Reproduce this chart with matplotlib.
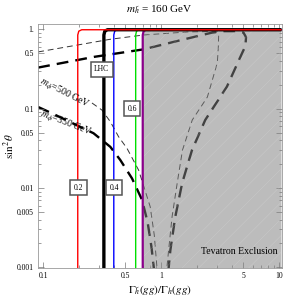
import numpy as np
import matplotlib
matplotlib.use("Agg")
import matplotlib.pyplot as plt
from matplotlib.ticker import FixedLocator, FixedFormatter, LogLocator, NullFormatter

plt.rcParams["font.family"] = ["Liberation Serif", "DejaVu Serif"]
plt.rcParams["mathtext.fontset"] = "stix"
plt.rcParams["hatch.linewidth"] = 0.35

# ratio contours: vertical at x0, bending into sin^2 = 1 at the top
CONTOUR_Y = [0.00097, 0.85, 0.95, 0.99, 0.99]
red_x = [0.197, 0.197, 0.201, 0.213, 10.5]
lhc_x = [0.328, 0.328, 0.334, 0.352, 10.5]
blue_x = [0.398, 0.398, 0.405, 0.425, 10.5]
green_x = [0.61, 0.61, 0.62, 0.65, 10.5]
purple_x = [0.70, 0.70, 0.712, 0.745, 10.5]

# m_phi = 500 GeV (thin dashed)
thin_left_x = [0.091, 0.26, 0.316, 0.372, 0.437, 0.515, 0.646, 0.81, 0.877, 0.925]
thin_left_y = [0.237, 0.118, 0.096, 0.0685, 0.0443, 0.0316, 0.0168, 0.0058, 0.00254, 0.00097]
thin_loop_x = [0.091, 0.37, 0.71, 1.7, 2.7, 3.0, 3.08, 3.06, 3.0, 2.47, 1.84, 1.52, 1.37, 1.24, 1.16, 1.12]
thin_loop_y = [0.52, 0.75, 0.85, 0.93, 0.94, 0.93, 0.85, 0.6, 0.378, 0.14, 0.072, 0.030, 0.0114, 0.0043, 0.00164, 0.00097]

# m_phi = 350 GeV (thick dashed)
thick_left_x = [0.091, 0.119, 0.268, 0.372, 0.452, 0.568, 0.69, 0.77, 0.83, 0.87]
thick_left_y = [0.105, 0.0875, 0.049, 0.033, 0.0225, 0.0132, 0.0071, 0.0037, 0.0018, 0.00097]
thick_loop_x = [0.091, 0.27, 0.71, 1.46, 2.7, 3.4, 4.4, 5.0, 5.25, 5.2, 4.86, 3.62, 2.37, 1.83, 1.51, 1.32, 1.2, 1.16]
thick_loop_y = [0.33, 0.45, 0.56, 0.73, 0.91, 0.95, 0.95, 0.91, 0.8, 0.62, 0.50, 0.19, 0.072, 0.030, 0.0115, 0.0043, 0.00164, 0.00097]

X_TICKS = [0.1, 0.5, 1, 5, 10]
X_LABELS = ["0.1", "0.5", "1", "5", "10"]
Y_TICKS = [0.001, 0.005, 0.01, 0.05, 0.1, 0.5, 1]
Y_LABELS = ["0.001", "0.005", "0.01", "0.05", "0.1", "0.5", "1."]

fig = plt.figure(figsize=(2.91, 3.01), dpi=100)
ax = fig.add_axes([0.1306, 0.1086, 0.8368, 0.8117])
ax.set_xscale("log")
ax.set_yscale("log")
ax.set_xlim(0.0907, 10.5)
ax.set_ylim(0.00097, 1.17)

# dashed m_phi curves (under the exclusion overlay)
ax.plot(thin_loop_x, thin_loop_y, color="#333333", lw=0.7, dashes=(6, 4), zorder=1)
x = np.array(thin_left_x)
ax.plot(x, np.where(x < 0.25, np.nan, thin_left_y), color="#333333", lw=0.7, dashes=(6, 4), zorder=1)
ax.plot(thick_loop_x, thick_loop_y, color="black", lw=1.7, dashes=(5, 3), zorder=1)
x = np.array(thick_left_x)
ax.plot(x, np.where((x > 0.125) & (x < 0.26), np.nan, thick_left_y), color="black", lw=1.7,
        dashes=(5, 3), zorder=1)

# Tevatron exclusion region
ax.fill(purple_x + [10.5], CONTOUR_Y + [0.00097], facecolor=(0.5, 0.5, 0.5, 0.52),
        edgecolor=(1, 1, 1, 0.2), hatch="//", lw=0, zorder=2)

for xs, col, lw in [(purple_x, "#8b008b", 1.6), (green_x, "#00e000", 1.0),
                    (blue_x, "#0000ff", 1.0), (lhc_x, "black", 2.4), (red_x, "#ff0000", 1.0)]:
    ax.plot(xs, CONTOUR_Y, color=col, lw=lw, zorder=3, solid_capstyle="butt")

box = dict(boxstyle="square,pad=0.45", fc="white", ec="#555555", lw=1.1)
for tx, ty, s in [(0.2, 0.0101, "0.2"), (0.4, 0.0101, "0.4"), (0.57, 0.1, "0.6"), (0.315, 0.315, "LHC")]:
    ax.text(tx, ty, s, fontsize=5.5, ha="center", va="center", bbox=box, zorder=4)

ax.text(0.152, 0.153, r"$m_\phi$=500 GeV", rotation=-27, fontsize=7, ha="center", va="center", zorder=4)
ax.text(0.157, 0.064, r"$m_\phi$=350 GeV", rotation=-21, fontsize=7, ha="center", va="center", zorder=4)
ax.text(0.985, 0.07, "Tevatron Exclusion", transform=ax.transAxes, fontsize=7,
        ha="right", va="center", zorder=4)

ax.xaxis.set_major_locator(FixedLocator(X_TICKS))
ax.xaxis.set_major_formatter(FixedFormatter(X_LABELS))
ax.yaxis.set_major_locator(FixedLocator(Y_TICKS))
ax.yaxis.set_major_formatter(FixedFormatter(Y_LABELS))
for axis in (ax.xaxis, ax.yaxis):
    axis.set_minor_locator(LogLocator(base=10, subs=np.arange(2, 10)))
    axis.set_minor_formatter(NullFormatter())
ax.tick_params(which="both", direction="in", top=True, right=True, labelsize=5.5,
               color="#777777", width=0.5, pad=3)
ax.tick_params(which="major", length=4)
ax.tick_params(which="minor", length=2)
for sp in ax.spines.values():
    sp.set_color("#999999")
    sp.set_linewidth(0.6)

ax.set_xlabel(r"$\Gamma_{\tilde{h}}(gg)/\Gamma_h(gg)$", fontsize=8, labelpad=2)
ax.set_ylabel(r"$\sin^2\theta$", fontsize=8)
ax.yaxis.set_label_coords(-0.085, 0.5)
ax.set_title(r"$m_{\tilde{h}}$ = 160 GeV", fontsize=8, pad=8)

fig.savefig("out.png", dpi=100)
